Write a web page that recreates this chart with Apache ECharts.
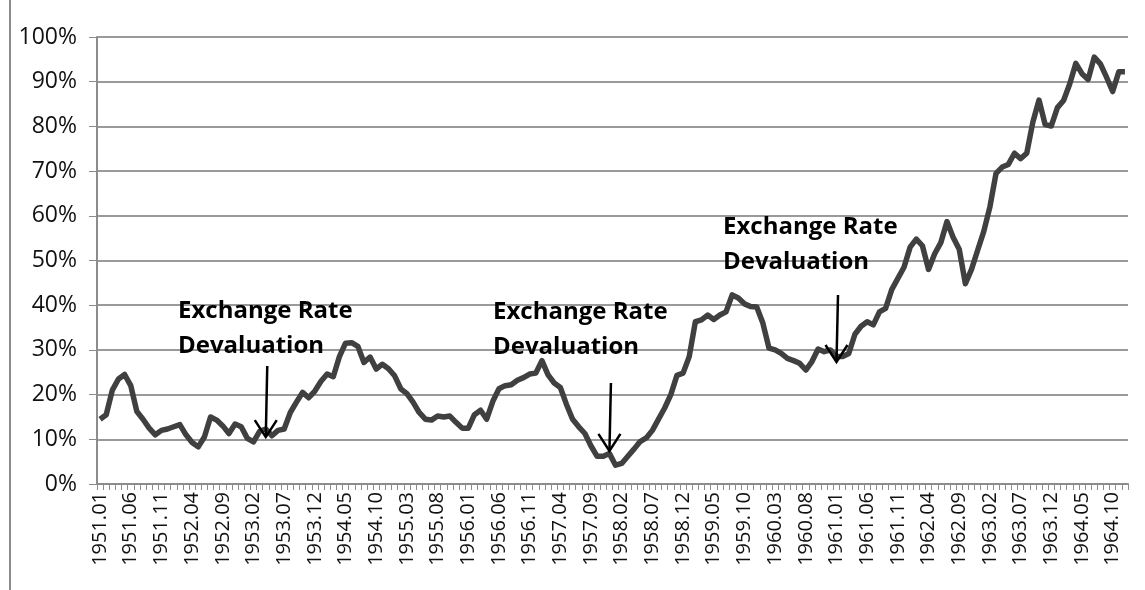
<!DOCTYPE html>
<html>
<head>
<meta charset="utf-8">
<script src="https://cdn.jsdelivr.net/npm/echarts@6/dist/echarts.min.js"></script>
<style>
  html, body { margin: 0; padding: 0; background: #fff; }
  #chart { width: 1145px; height: 590px; }
</style>
</head>
<body>
<div id="chart"></div>
<script>
// monthly, 1951.01 .. 1964.12
var startYear = 1951;
var months = [];
for (var y = startYear; y <= 1964; y++) {
    for (var m = 1; m <= 12; m++) {
        months.push(y + '.' + (m < 10 ? '0' + m : m));
    }
}

// percent values
var values = [
    14.5, 15.5, 21, 23.5, 24.5, 22, 16.2, 14.5, 12.5, 11,
    12, 12.3, 12.8, 13.3, 11, 9.3, 8.3, 10.5, 15, 14.3,
    13, 11.3, 13.4, 12.8, 10.2, 9.4, 11.8, 12.3, 10.8, 12,
    12.3, 16, 18.3, 20.5, 19.3, 20.8, 23, 24.6, 24, 28.5,
    31.5, 31.6, 30.8, 27.2, 28.4, 25.7, 26.8, 25.8, 24.2, 21.3,
    20.2, 18.3, 16, 14.5, 14.3, 15.2, 15, 15.2, 13.8, 12.5,
    12.5, 15.5, 16.5, 14.5, 18.5, 21.3, 22, 22.2, 23.2, 23.8,
    24.6, 24.8, 27.6, 24.4, 22.6, 21.6, 17.8, 14.5, 12.8, 11.3,
    8.5, 6.2, 6.2, 6.8, 4.2, 4.6, 6.2, 7.8, 9.5, 10.3,
    12, 14.5, 17, 20, 24.3, 24.8, 28.5, 36.3, 36.7, 37.8,
    36.8, 37.8, 38.5, 42.3, 41.6, 40.3, 39.7, 39.6, 36, 30.4,
    30, 29.2, 28.1, 27.6, 27, 25.5, 27.4, 30.2, 29.6, 30,
    28.5, 28.5, 29.2, 33.5, 35.3, 36.3, 35.6, 38.5, 39.3, 43.5,
    46, 48.5, 53, 54.8, 53.3, 48, 51.5, 54, 58.7, 55.2,
    52.5, 44.8, 48, 52.3, 56.5, 62, 69.5, 70.9, 71.5, 74,
    72.8, 74, 81, 85.9, 80.4, 80.1, 84.2, 85.8, 89.5, 94.1,
    91.8, 90.5, 95.5, 94, 91, 87.8, 92.2, 92.2
];

// annotations: arrow position (month index), arrow top / tip (percent)
var noteText = 'Exchange Rate\nDevaluation';
var arrowIdx = [26.8, 82.6, 119.7];
var arrowTop = [26.4, 22.6, 42.3];
var arrowTip = [10.5, 7.4, 27.3];
var notePos = [[178, 294], [493, 295], [723, 210]];

var mychart = echarts.init(document.getElementById('chart'));

var option = {
    animation: false,
    backgroundColor: '#fff',
    grid: { left: 97, right: 17, top: 37, bottom: 106 },
    xAxis: {
        type: 'category',
        data: months,
        boundaryGap: true,
        axisLine: { lineStyle: { color: '#8c8c8c', width: 2 } },
        axisTick: { show: true, interval: 0, length: 6, lineStyle: { color: '#8c8c8c', width: 1 } },
        axisLabel: {
            interval: 4,
            rotate: 90,
            margin: 8,
            color: '#111',
            fontFamily: 'Open Sans',
            fontSize: 20
        },
        splitLine: { show: false }
    },
    yAxis: {
        type: 'value',
        min: 0,
        max: 100,
        interval: 10,
        axisLine: { show: true, lineStyle: { color: '#8c8c8c', width: 2 } },
        axisTick: { show: true, length: 8, lineStyle: { color: '#8c8c8c', width: 1 } },
        axisLabel: {
            formatter: '{value}%',
            margin: 20,
            color: '#111',
            fontFamily: 'Open Sans',
            fontSize: 23
        },
        splitLine: { lineStyle: { color: '#9a9a9a', width: 2 } }
    },
    series: [{
        type: 'line',
        data: values,
        showSymbol: false,
        symbol: 'none',
        lineStyle: { color: '#404040', width: 5.5, join: 'round' },
        itemStyle: { color: '#404040' }
    }]
};

mychart.setOption(option);

var g = [];
// left frame line
g.push({
    type: 'line',
    shape: { x1: 10, y1: 0, x2: 10, y2: 590 },
    style: { stroke: '#8c8c8c', lineWidth: 2 },
    z: 100
});
for (var i = 0; i < arrowIdx.length; i++) {
    var p1 = mychart.convertToPixel({ gridIndex: 0 }, [arrowIdx[i], arrowTop[i]]);
    var p2 = mychart.convertToPixel({ gridIndex: 0 }, [arrowIdx[i], arrowTip[i]]);
    g.push({
        type: 'line',
        shape: { x1: p1[0] + 1.5, y1: p1[1], x2: p2[0], y2: p2[1] },
        style: { stroke: '#000', lineWidth: 2.5 },
        z: 100
    });
    g.push({
        type: 'polyline',
        shape: { points: [[p2[0] - 11, p2[1] - 17], [p2[0], p2[1]], [p2[0] + 11, p2[1] - 17]] },
        style: { stroke: '#000', lineWidth: 2.5, fill: null },
        z: 100
    });
    g.push({
        type: 'text',
        x: notePos[i][0],
        y: notePos[i][1],
        style: {
            text: noteText,
            font: 'bold 24px "Open Sans"',
            fill: '#000',
            lineHeight: 35,
            textVerticalAlign: 'top'
        },
        z: 100
    });
}
mychart.setOption({ graphic: g });
</script>
</body>
</html>
